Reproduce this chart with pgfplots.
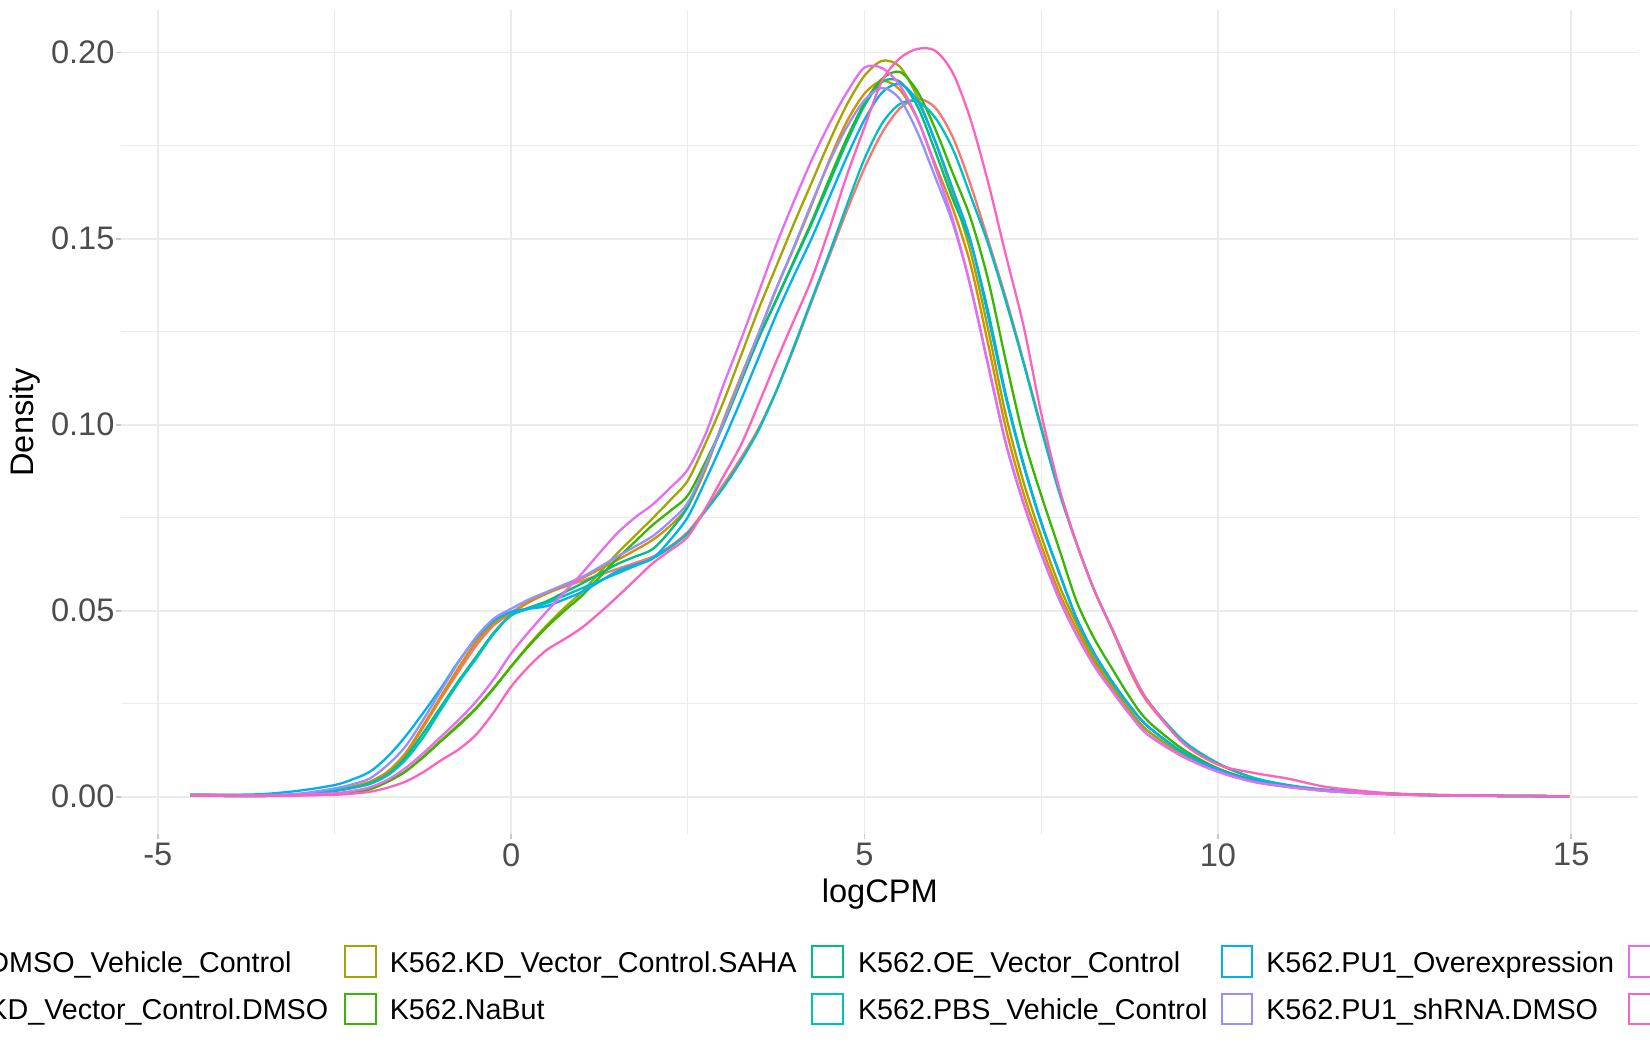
\documentclass[border=0pt]{standalone}
\usepackage{pgfplots}
\pgfplotsset{compat=1.18}
\usepackage{pgfplotstable}
\usepackage{fontspec}
\setmainfont{Liberation Sans}
\definecolor{cRed}{HTML}{F8766D}
\definecolor{cOrange}{HTML}{D89000}
\definecolor{cOlive}{HTML}{A3A500}
\definecolor{cGreen}{HTML}{39B600}
\definecolor{cTeal}{HTML}{00BF7D}
\definecolor{cCyan}{HTML}{00BFC4}
\definecolor{cBlue}{HTML}{00B0F6}
\definecolor{cPurple}{HTML}{9590FF}
\definecolor{cMagenta}{HTML}{E76BF3}
\definecolor{cPink}{HTML}{FF62BC}
\definecolor{gridgray}{HTML}{EBEBEB}
\definecolor{tickgray}{HTML}{C8C8C8}
\definecolor{ticktext}{HTML}{4D4D4D}

\pgfplotstableread{
x red orange olive green teal cyan blue purple magenta pink
-4.54 .0004 .0004 .0003 .0003 .0003 .0003 .0006 .0006 .0004 .0003
-4 .0003 .0003 .0002 .0002 .0002 .0002 .0005 .0005 .0003 .0002
-3.5 .0003 .0003 .0002 .0002 .0002 .0002 .0007 .0004 .0003 .0002
-3 .0006 .0006 .0004 .0004 .0005 .0005 .0016 .0008 .0005 .0003
-2.5 .0018 .0018 .0006 .0006 .0016 .0015 .0031 .0022 .0009 .0005
-2.25 .0027 .0027 .0011 .0011 .0024 .0023 .0046 .0033 .0015 .0008
-2 .0040 .0040 .0020 .0020 .0036 .0034 .0067 .0049 .0025 .0013
-1.75 .0066 .0067 .0040 .0040 .0060 .0057 .0107 .0085 .0045 .0024
-1.5 .0112 .0116 .0067 .0067 .0105 .0098 .0161 .0134 .0076 .0040
-1.25 .0185 .0190 .0107 .0105 .0170 .0158 .0224 .0205 .0116 .0065
-1 .0262 .0268 .0150 .0148 .0240 .0232 .0290 .0283 .0160 .0097
-0.75 .0335 .0345 .0193 .0190 .0310 .0305 .0362 .0360 .0205 .0126
-0.5 .0405 .0415 .0238 .0236 .0375 .0370 .0425 .0428 .0255 .0166
-0.25 .0460 .0465 .0292 .0290 .0440 .0437 .0472 .0478 .0315 .0226
0 .0493 .0495 .0350 .0350 .0488 .0487 .0497 .0505 .0385 .0296
0.25 .0522 .0524 .0408 .0405 .0508 .0505 .0505 .0530 .0443 .0350
0.5 .0546 .0546 .0460 .0455 .0525 .0520 .0512 .0550 .0497 .0394
0.75 .0564 .0567 .0507 .0499 .0549 .0540 .0530 .0570 .0549 .0423
1 .0580 .0587 .0550 .0540 .0573 .0560 .0550 .0590 .0600 .0454
1.25 .0596 .0611 .0602 .0590 .0599 .0580 .0578 .0617 .0655 .0494
1.5 .0612 .0636 .0654 .0640 .0625 .0600 .0606 .0645 .0708 .0537
1.75 .0628 .0662 .0701 .0685 .0645 .0620 .0623 .0672 .0750 .0582
2 .0645 .0690 .0748 .0730 .0665 .0640 .0640 .0700 .0785 .0627
2.25 .0673 .0728 .0797 .0768 .0715 .0670 .0690 .0740 .0830 .0662
2.5 .0712 .0780 .0850 .0810 .0780 .0708 .0752 .0790 .0880 .0699
2.75 .0772 .0880 .0950 .0900 .0890 .0768 .0850 .0890 .0975 .0775
3 .0838 .1010 .1060 .1000 .1000 .0830 .0955 .1005 .1105 .0860
3.25 .0910 .1130 .1185 .1115 .1118 .0902 .1065 .1125 .1228 .0945
3.5 .0990 .1245 .1310 .1232 .1232 .0985 .1180 .1245 .1355 .1055
3.75 .1090 .1365 .1425 .1335 .1335 .1090 .1295 .1365 .1483 .1170
4 .1205 .1475 .1540 .1440 .1437 .1210 .1400 .1478 .1600 .1280
4.25 .1330 .1590 .1650 .1545 .1540 .1335 .1500 .1595 .1710 .1390
4.5 .1452 .1710 .1760 .1660 .1650 .1460 .1610 .1705 .1808 .1525
4.75 .1575 .1815 .1860 .1770 .1760 .1590 .1720 .1800 .1893 .1670
5 .1690 .1890 .1938 .1865 .1858 .1715 .1820 .1872 .1960 .1800
5.25 .1785 .1924 .1978 .1930 .1922 .1810 .1893 .1905 .1958 .1925
5.5 .1850 .1900 .1962 .1948 .1922 .1862 .1916 .1875 .1912 .1985
5.75 .1876 .1820 .1880 .1895 .1855 .1868 .1870 .1785 .1822 .2010
6 .1852 .1700 .1760 .1795 .1735 .1825 .1762 .1665 .1692 .2005
6.25 .1772 .1580 .1620 .1675 .1605 .1740 .1632 .1540 .1550 .1945
6.5 .1645 .1430 .1465 .1555 .1490 .1615 .1495 .1372 .1370 .1820
6.75 .1495 .1215 .1255 .1388 .1303 .1485 .1290 .1158 .1160 .1650
7 .1340 .0990 .1025 .1170 .1080 .1331 .1072 .0948 .0950 .1455
7.25 .1170 .0815 .0845 .0965 .0895 .1165 .0890 .0787 .0790 .1265
7.5 .0995 .0675 .0700 .0810 .0738 .0988 .0735 .0652 .0655 .1030
7.75 .0825 .0550 .0570 .0668 .0605 .0820 .0603 .0532 .0535 .0833
8 .0680 .0450 .0465 .0525 .0480 .0681 .0478 .0435 .0435 .0681
8.25 .0555 .0362 .0372 .0425 .0385 .0555 .0385 .0352 .0352 .0555
8.5 .0450 .0293 .0300 .0345 .0310 .0452 .0310 .0285 .0285 .0452
8.75 .0340 .0230 .0234 .0268 .0245 .0348 .0245 .0222 .0222 .0348
9 .0255 .0178 .0178 .0205 .0190 .0260 .0190 .0168 .0168 .0260
9.5 .0148 .0113 .0115 .0128 .0120 .0152 .0120 .0108 .0108 .0145
10 .0088 .0069 .0070 .0076 .0073 .0090 .0073 .0067 .0067 .0086
10.5 .0050 .0041 .0042 .0045 .0043 .0051 .0043 .0040 .0040 .0064
11 .0030 .0026 .0027 .0029 .0028 .0031 .0028 .0026 .0026 .0048
11.5 .0018 .0016 .0016 .0018 .0017 .0019 .0017 .0016 .0016 .0027
12 .0012 .0010 .0010 .0012 .0011 .0012 .0011 .0010 .0010 .0016
12.5 .0007 .0006 .0006 .0008 .0007 .0007 .0007 .0006 .0006 .0008
13 .0004 .0004 .0004 .0005 .0004 .0004 .0004 .0004 .0004 .0005
14 .0002 .0002 .0002 .0002 .0002 .0002 .0002 .0002 .0002 .0002
14.97 .0001 .0001 .0001 .0001 .0001 .0001 .0001 .0001 .0001 .0001
}\dens

\newcommand{\tickfont}{\fontsize{16.3pt}{19.5pt}\selectfont}
\newcommand{\legfont}{\fontsize{14.35pt}{17pt}\selectfont}

\begin{document}
\begin{tikzpicture}
\useasboundingbox (0,0) rectangle (825pt,525pt);
\clip (0,0) rectangle (825pt,525pt);
\begin{axis}[
  at={(60.55pt,107.9pt)}, anchor=south west,
  width=758.65pt, height=412pt, scale only axis,
  xmin=-5.52, xmax=15.95, ymin=-0.0101, ymax=0.2114,
  axis line style={draw=none},
  xtick={-5,0,5,10,15}, xticklabels={-5,0,5,10,15},
  ytick={0,0.05,0.1,0.15,0.2}, yticklabels={0.00,0.05,0.10,0.15,0.20},
  scaled y ticks=false, scaled x ticks=false,
  minor xtick={-2.5,2.5,7.5,12.5}, minor ytick={0.025,0.075,0.125,0.175},
  grid=both,
  major grid style={draw=gridgray, line width=0.9pt},
  minor grid style={draw=gridgray, line width=0.6pt},
  tick align=outside, major tick length=2.5pt, minor tick length=0pt,
  major tick style={draw=tickgray, line width=0.9pt},
  xtick pos=bottom, ytick pos=left,
  ticklabel style={font=\tickfont, text=ticktext, inner sep=0pt},
  xticklabel style={anchor=north, yshift=-1.9pt},
  yticklabel style={anchor=east, xshift=-0.6pt},
  xlabel={logCPM}, ylabel={Density},
  xlabel style={font=\tickfont, at={(axis description cs:0.5,-0.08337)}, anchor=base, inner sep=0pt},
  ylabel style={font=\tickfont, at={(axis description cs:-0.05806,0.5)}, anchor=base, rotate=0, inner sep=0pt},
  every axis plot/.append style={line width=1.15pt, smooth, tension=0.5, line join=round},
]
\addplot[cRed] table[x=x, y=red] {\dens};
\addplot[cOrange] table[x=x, y=orange] {\dens};
\addplot[cOlive] table[x=x, y=olive] {\dens};
\addplot[cGreen] table[x=x, y=green] {\dens};
\addplot[cTeal] table[x=x, y=teal] {\dens};
\addplot[cCyan] table[x=x, y=cyan] {\dens};
\addplot[cBlue] table[x=x, y=blue] {\dens};
\addplot[cPurple] table[x=x, y=purple] {\dens};
\addplot[cMagenta] table[x=x, y=magenta] {\dens};
\addplot[cPink] table[x=x, y=pink] {\dens};
\end{axis}
% legend
\begin{scope}[line width=1pt]
\draw[cRed] (-65.5pt,36.45pt) rectangle (-50.2pt,51.75pt);
\draw[cOrange] (-65.5pt,12.75pt) rectangle (-50.2pt,28.05pt);
\draw[cOlive] (172.55pt,36.45pt) rectangle (187.85pt,51.75pt);
\draw[cGreen] (172.55pt,12.75pt) rectangle (187.85pt,28.05pt);
\draw[cTeal] (406.15pt,36.45pt) rectangle (421.45pt,51.75pt);
\draw[cCyan] (406.15pt,12.75pt) rectangle (421.45pt,28.05pt);
\draw[cBlue] (610.85pt,36.45pt) rectangle (626.15pt,51.75pt);
\draw[cPurple] (610.85pt,12.75pt) rectangle (626.15pt,28.05pt);
\draw[cMagenta] (814.5pt,36.45pt) rectangle (829.8pt,51.75pt);
\draw[cPink] (814.5pt,12.75pt) rectangle (829.8pt,28.05pt);
\end{scope}
\begin{scope}[every node/.style={anchor=base west, inner sep=0pt, font=\legfont}]
\node at (-43.45pt,38.96pt) {K562.DMSO\_Vehicle\_Control};
\node at (-43.45pt,15.26pt) {K562.KD\_Vector\_Control.DMSO};
\node at (194.7pt,38.96pt) {K562.KD\_Vector\_Control.SAHA};
\node at (194.7pt,15.26pt) {K562.NaBut};
\node at (428.8pt,38.96pt) {K562.OE\_Vector\_Control};
\node at (428.8pt,15.26pt) {K562.PBS\_Vehicle\_Control};
\node at (632.95pt,38.96pt) {K562.PU1\_Overexpression};
\node at (632.95pt,15.26pt) {K562.PU1\_shRNA.DMSO};
\node at (836.5pt,38.96pt) {K562.PU1\_shRNA.SAHA};
\node at (836.5pt,15.26pt) {K562.SAHA};
\end{scope}
\end{tikzpicture}
\end{document}
